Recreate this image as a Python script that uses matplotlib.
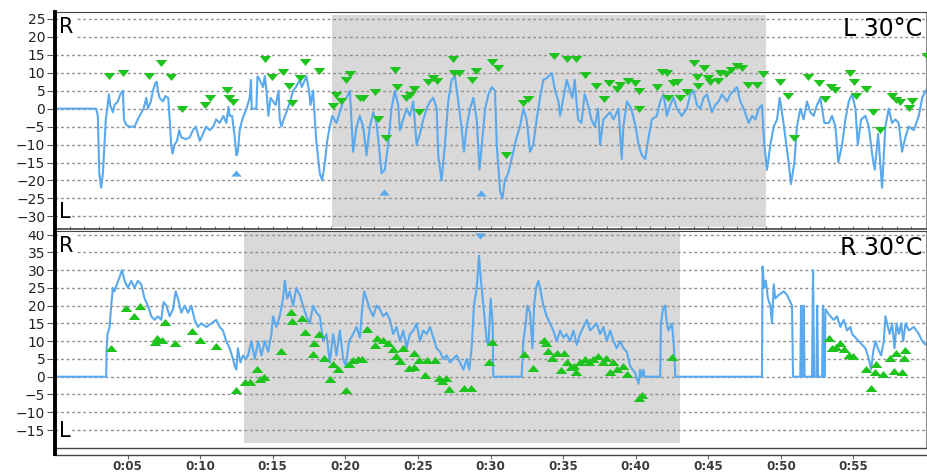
"""Two-panel lateral position trace, L 30°C (top) and R 30°C (bottom)."""
import matplotlib
matplotlib.use("Agg")
import matplotlib.pyplot as plt
from matplotlib.lines import Line2D
from matplotlib.patches import Rectangle

plt.rcParams['font.family'] = ['DejaVu Sans']

# ---- top panel (L 30°C): trace, minutes vs value ----
top_t = [0, 2.84, 2.95, 3.05, 3.18, 3.3, 3.41, 3.5, 3.6, 3.71, 3.8, 3.99, 4.1, 4.33, 4.5, 4.68,
         4.75, 4.9, 5.1, 5.48, 5.7, 5.83, 6.1, 6.29, 6.4, 6.6, 6.75, 6.9, 7.0, 7.09, 7.2, 7.44,
         7.6, 7.8, 7.9, 8.0, 8.1, 8.24, 8.4, 8.55, 8.7, 9.0, 9.28, 9.5, 9.7, 9.97, 10.2, 10.4,
         10.66, 10.9, 11.1, 11.34, 11.6, 11.8, 11.95, 12.03, 12.2, 12.38, 12.5, 12.6, 12.72,
         12.9, 13.19, 13.41, 13.5, 13.55, 13.87, 13.95, 14.1, 14.33, 14.45, 14.57, 14.7, 14.85,
         15.02, 15.2, 15.4, 15.48, 15.6, 15.75, 15.94, 16.2, 16.4, 16.6, 16.86, 17.0, 17.32,
         17.5, 17.6, 17.78, 17.9, 18.0, 18.24, 18.4, 18.59, 18.75, 18.93, 19.1, 19.39, 19.62,
         19.85, 20.08, 20.31, 20.54, 20.77, 21.0, 21.23, 21.46, 21.69, 21.92, 22.15, 22.38,
         22.49, 22.72, 22.95, 23.18, 23.41, 23.64, 23.76, 23.99, 24.22, 24.45, 24.68, 24.91,
         25.14, 25.37, 25.6, 25.83, 26.06, 26.29, 26.4, 26.63, 26.86, 27.09, 27.32, 27.55,
         27.78, 28.0, 28.17, 28.36, 28.59, 28.82, 29.05, 29.24, 29.4, 29.63, 29.86, 30.08,
         30.31, 30.43, 30.66, 30.82, 30.99, 31.22, 31.45, 31.8, 32.03, 32.26, 32.49, 32.72,
         32.95, 33.18, 33.41, 33.64, 33.87, 34.22, 34.45, 34.68, 34.79, 35.02, 35.25, 35.48,
         35.64, 35.8, 36.03, 36.26, 36.49, 36.72, 36.95, 37.18, 37.41, 37.55, 37.78, 38.01,
         38.24, 38.47, 38.82, 39.04, 39.15, 39.4, 39.7, 40.0, 40.2, 40.43, 40.66, 40.89, 41.11,
         41.46, 41.69, 41.92, 42.15, 42.38, 42.61, 42.84, 43.18, 43.53, 43.76, 43.99, 44.22,
         44.45, 44.68, 44.91, 45.25, 45.48, 45.71, 45.94, 46.29, 46.52, 46.75, 46.98, 47.21,
         47.44, 47.79, 48.02, 48.25, 48.48, 48.7, 48.86, 49.05, 49.28, 49.51, 49.74, 49.92,
         50.15, 50.38, 50.54, 50.7, 50.93, 51.11, 51.34, 51.57, 51.8, 52.03, 52.26, 52.49,
         52.72, 53.0, 53.3, 53.53, 53.76, 53.96, 54.22, 54.45, 54.68, 54.91, 55.14, 55.3,
         55.53, 55.83, 56.06, 56.3, 56.47, 56.7, 56.97, 57.2, 57.43, 57.66, 57.89, 58.12,
         58.35, 58.58, 58.81, 59.16, 59.5, 59.74, 59.97, 60.2]
top_v = [0, 0, -2, -18, -22, -18, -10, -3, 0, 4, 1, -1, 1, 2, 4, 5,
         -3, -4.5, -5, -5, -3, -2, 0, 3, 0, 2, 5, 7, 7.5, 5, 3, 2,
         3.5, 3, -3, -10, -12.5, -10, -9, -6, -8, -8.5, -8, -6, -5, -9, -7, -5,
         -6, -5, -3, -4, -2, -4, 0.5, -2, -2, -8, -13, -12, -6,
         -3, 0, 3, 8, 0, 0, 9, 8, 6, 9, 5, -2, 3,
         2, 1, 5, -3, -5, -3, -1, 2, 5, 6, 8, 6, 9,
         5, 1, 5, -3, -9, -18, -20, -15, -9, -5, -2, -4, -1,
         2, 3, 5, -12, -5, -2, -5, -13, -5, -1, -4, -13,
         -18, -17, -10, 0, 5, 1, -6, -3, 0, -2, 2, -10,
         -7, -3, 0, 2, 3, 0, -13, -20, -10, 2, 8, 9,
         2, -5, -12, -5, 0, 3, -3, -17, -10, 0, 4, 6,
         5, -10, -23, -25, -20, -18, -14, -8, -5, 0, -3, -12,
         -10, -3, 3, 8, 8.5, 10, 5, 2, -2, 3, 8, 5,
         3, 8, -3, -4, 4, 1, -3, -5, 0, -10, -3, -2,
         -1, -3, 0, -14, -5, 2, 0, -5, -10, -13, -14, -8, -3,
         -2, 2, 4, -2, 1, 3, 0, -2, 0, 4, 5, 1,
         0, 3, 4, -1, 1, 2, 4, 2, 4, 5, 6, 2,
         0, -4, -2, -3, 0, 1, -10, -17, -10, -5, -3, 3,
         -3, -10, -15, -21, -15, -5, 0, -3, 2, -1, -2, 1,
         3, -4, -4, -2, -5, -15, -10, -3, 2, 4, 0, -10,
         -3, -2, -5, -13, -17, -7, -22, -5, 0, -4, -3, -4,
         -12, -8, -5, -6, -2, 3, 5, 6]

top_mk_t = [3.71, 4.68, 6.45, 7.28, 7.97, 8.77, 10.31, 10.66, 11.87, 11.96, 12.26, 14.45, 14.98,
            15.71, 16.13, 16.36, 16.86, 17.25, 18.2, 19.16, 19.39, 19.73, 20.08, 20.35, 21.0,
            21.23, 22.03, 22.26, 22.79, 23.41, 23.57, 24.21, 24.45, 24.75, 25.1, 25.71, 26.05,
            26.33, 27.44, 27.49, 27.86, 28.71, 28.98, 30.08, 30.54, 31.05, 32.26, 32.56, 34.36,
            35.3, 35.92, 36.54, 37.26, 37.81, 38.17, 38.68, 38.91, 39.48, 39.94, 40.2, 40.25,
            41.46, 41.8, 42.15, 42.26, 42.56, 42.84, 43.02, 43.53, 43.99, 44.22, 44.27, 44.68,
            44.95, 45.09, 45.64, 45.83, 46.24, 46.59, 46.98, 47.32, 47.73, 48.36, 48.77, 49.97,
            50.47, 50.93, 51.87, 52.66, 53.03, 53.49, 53.76, 54.79, 55.07, 55.2, 55.87, 56.36,
            56.86, 57.67, 57.9, 58.24, 58.82, 59.05, 60.05]
top_mk_v = [9.1, 10, 9.1, 12.8, 8.7, 0, 1, 3.1, 5.2, 3.1, 1.9, 13.7, 8.7,
            10.3, 6.3, 1.5, 8.4, 13, 10.6, 0.7, 3.8, 2.2, 8, 9.6, 3.1,
            3.1, 4.7, -2.9, -8.2, 10.7, 5.9, 2.9, 3.8, 5.6, -0.8, 7.5, 8.6,
            7.7, 13.7, 10, 10, 8, 10.6, 13, 11.2, -13, 1.5, 2.8, 14.7,
            13.7, 13.7, 9.5, 6.3, 2.7, 7, 5.6, 6.6, 7.7, 7, 4.9, -0.2,
            5.9, 10.3, 9.8, 2.9, 7.2, 7.5, 3.1, 4.7, 12.8, 8.7, 6.4, 11.2,
            8.6, 7.3, 7.7, 10, 9.6, 10.7, 11.9, 11.2, 6.6, 6.6, 9.6, 7.5,
            3.5, -8.2, 8.9, 7, 2.7, 5.9, 5.2, 9.8, 7.5, 3.6, 5.6, -0.8,
            -5.9, 3.6, 2.4, 1.8, 0.1, 2.1, 14.6]
top_blue_t = [12.49, 22.66, 29.35]
top_blue_v = [-17.8, -23.2, -23.5]

# ---- bottom panel (R 30°C) ----
bot_t = [0, 3.53, 3.56, 3.62, 3.76, 3.87, 3.99, 4.1, 4.26, 4.45, 4.61, 4.79, 5.02, 5.25, 5.48,
         5.71, 5.94, 6.17, 6.4, 6.63, 6.86, 7.09, 7.32, 7.48, 7.67, 7.9, 8.13, 8.31, 8.47, 8.7,
         8.93, 9.16, 9.39, 9.62, 9.85, 10.08, 10.43, 10.77, 11.11, 11.34, 11.57, 11.8, 12.03,
         12.26, 12.38, 12.49, 12.6, 12.77, 12.95, 13.14, 13.3, 13.53, 13.76, 13.99, 14.22,
         14.45, 14.68, 14.91, 15.02, 15.25, 15.48, 15.71, 15.83, 15.99, 16.17, 16.4, 16.63,
         16.86, 17.09, 17.32, 17.55, 17.78, 18.01, 18.24, 18.47, 18.7, 18.93, 19.16, 19.39,
         19.62, 19.85, 20.03, 20.26, 20.54, 20.77, 21.0, 21.18, 21.3, 21.46, 21.69, 21.92,
         22.15, 22.38, 22.61, 22.84, 23.07, 23.3, 23.53, 23.76, 23.99, 24.22, 24.45, 24.68,
         24.91, 25.14, 25.37, 25.6, 25.83, 26.06, 26.29, 26.52, 26.75, 26.98, 27.21, 27.44,
         27.67, 27.9, 28.13, 28.36, 28.54, 28.7, 28.86, 29.05, 29.21, 29.32, 29.44, 29.56,
         29.74, 29.86, 30.01, 30.15, 30.19, 32.14, 32.26, 32.43, 32.54, 32.72, 32.89, 33.0,
         33.14, 33.3, 33.46, 33.64, 33.87, 34.1, 34.33, 34.56, 34.79, 35.02, 35.25, 35.48,
         35.71, 35.94, 36.17, 36.4, 36.63, 36.86, 37.09, 37.32, 37.55, 37.78, 38.01, 38.24,
         38.47, 38.7, 38.93, 39.16, 39.39, 39.62, 39.97, 40.2, 40.31, 40.43, 40.54, 40.59,
         41.69, 41.74, 41.88, 42.03, 42.15, 42.26, 42.38, 42.49, 42.61, 42.73, 48.7, 48.74,
         48.86, 48.97, 49.11, 49.28, 49.39, 49.51, 49.62, 49.85, 50.2, 50.43, 50.77, 50.84,
         51.34, 51.39, 51.43, 51.53, 51.57, 51.64, 52.15, 52.22, 52.29, 52.45, 52.5, 52.57,
         52.84, 52.9, 52.98, 53.03, 53.07, 53.23, 53.41, 53.64, 53.87, 54.1, 54.33, 54.56,
         54.79, 54.91, 55.14, 55.37, 55.6, 55.83, 56.06, 56.22, 56.36, 56.51, 56.68, 56.91,
         57.09, 57.21, 57.32, 57.5, 57.67, 57.83, 57.97, 58.13, 58.29, 58.43, 58.59, 58.82,
         59.16, 59.51, 59.74, 59.97, 60.2]
bot_v = [0, 0, 8, 12, 14, 20, 25, 24, 26, 28, 30, 27, 25, 27, 25,
         27, 26, 22, 20, 17, 16, 17, 16, 21, 20, 17, 19, 24, 22, 18,
         20, 18, 20, 16, 14, 15, 14, 15, 16, 14, 13, 10, 8,
         5, 3, 2, 8, 4, 6, 5, 6, 10, 5, 10, 6,
         10, 7, 12, 17, 14, 17, 22, 27, 22, 24, 20, 25,
         23, 20, 17, 15, 20, 18, 17, 10, 12, 4, 12, 6,
         13, 5, 3, 10, 12, 14, 11, 20, 24, 22, 19, 17,
         20, 19, 17, 18, 16, 12, 14, 10, 13, 8, 12, 13,
         15, 10, 13, 12, 14, 11, 8, 7, 5, 6, 4, 5,
         6, 4, 2, 5, 2, 8, 20, 25, 34, 28, 23, 18,
         10, 9, 22, 15, 0, 0, 10, 15, 20, 18, 8, 20,
         25, 27, 24, 20, 17, 15, 13, 10, 13, 11, 12, 10,
         13, 9, 12, 14, 16, 13, 14, 15, 12, 14, 10, 13,
         10, 8, 10, 8, 7, 3, 1, -2, 2, 0, 2, 0,
         0, 15, 19, 20, 15, 13, 14, 15, 10, 0, 0, 31,
         25, 27, 22, 20, 15, 26, 22, 23, 24, 23, 20, 0,
         0, 20, 0, 0, 20, 0, 0, 30, 0, 0, 20, 0,
         0, 20, 0, 0, 19, 18, 17, 16, 17, 14, 16, 13,
         14, 12, 11, 10, 9, 8, 5, 2, 7, 10, 8, 6,
         10, 17, 15, 12, 15, 8, 15, 12, 15, 10, 15, 13,
         14, 12, 10, 9, 11]

bot_mk_t = [3.87, 4.86, 5.41, 5.83, 6.86, 7.02, 7.37, 7.6, 8.29, 9.44, 9.97, 11.12, 12.49,
            13.07, 13.46, 13.92, 14.1, 14.38, 15.6, 16.24, 16.36, 17.02, 17.21, 17.78, 17.85,
            18.2, 18.52, 18.93, 19.16, 19.5, 20.08, 20.27, 20.54, 20.88, 21.18, 21.51, 22.03,
            22.19, 22.61, 22.95, 23.25, 23.48, 23.76, 23.94, 24.4, 24.72, 24.72, 25.09, 25.48,
            25.64, 26.17, 26.47, 26.63, 26.93, 27.16, 28.17, 28.63, 29.92, 30.13, 32.31, 32.95,
            33.69, 33.83, 33.99, 34.22, 34.61, 34.84, 35.03, 35.25, 35.53, 35.76, 35.89, 36.17,
            36.52, 36.81, 37.09, 37.43, 37.73, 37.96, 38.24, 38.42, 38.7, 39.11, 39.39, 40.2,
            40.42, 42.5, 53.3, 53.53, 53.83, 54.1, 54.38, 54.68, 54.95, 55.85, 56.24, 56.47,
            56.54, 57.05, 57.53, 57.81, 57.92, 58.33, 58.49, 58.56]
bot_mk_v = [8, 19.4, 17.2, 19.8, 9.8, 10.8, 10.3, 15.3, 9.4, 12.9, 10.3, 8.7, -3.8,
            -1.4, -1.4, 2.3, -0.7, 0, 7.3, 18.1, 15.7, 16.6, 12.5, 6.3, 9.4,
            12, 5.2, -0.7, 3.5, 2.3, -3.8, 3.5, 4.7, 4.9, 4.9, 13.4, 8.9,
            10.8, 10.3, 9.4, 7.8, 5.9, 4.4, 8.2, 2.5, 2.8, 6.6, 4.7, 0.5,
            4.7, 4.7, -0.5, -1.2, -0.5, -3.5, -3.3, -3.3, 4.2, 9.7, 6.3, 2.5,
            10.3, 9.4, 7.2, 5.2, 6.8, 1.9, 6.6, 4.2, 2.8, 3.1, 1.4, 4.2,
            5, 4.2, 5, 5.9, 4.2, 5.2, 1.4, 4.2, 2.2, 3.1, 0.9, -6.1,
            -5.2, 5.6, 10.8, 8, 8.4, 9.4, 7.8, 6.1, 5.9, 2.1, -3.3, 1.4,
            3.5, 0.7, 5.3, 1.6, 6.6, 1.4, 5.3, 7.5]
bot_blue_t = [29.28]
bot_blue_v = [39.6]

# shaded periods (minutes)
top_span = (19.05, 49.0)
bot_span = (13.0, 43.07)

x_ticks = [5, 10, 15, 20, 25, 30, 35, 40, 45, 50, 55]
x_labels = [f"0:{m:02d}" for m in x_ticks]

BLUE = '#5aa9ec'
GREEN = '#1ec31e'
GRID = '#8f8f8f'

# wide, flat triangles like the original export
TRI_DOWN = [(-1, 0.6), (1, 0.6), (0, -0.6), (-1, 0.6)]
TRI_UP = [(-1, -0.6), (1, -0.6), (0, 0.6), (-1, -0.6)]

W, H = 928, 473
fig = plt.figure(figsize=(W / 100, H / 100), dpi=100)
L, R = 55, 926
ax1 = fig.add_axes([L / W, 1 - 229 / H, (R - L) / W, (229 - 12) / H])
ax2 = fig.add_axes([L / W, 1 - 448 / H, (R - L) / W, (448 - 231) / H])

panels = [
    (ax1, top_t, top_v, top_mk_t, top_mk_v, TRI_DOWN, top_blue_t, top_blue_v, TRI_UP,
     top_span, (-33.5, 26.9), range(-30, 26, 5), "L 30°C", (0.01, 0.987)),
    (ax2, bot_t, bot_v, bot_mk_t, bot_mk_v, TRI_UP, bot_blue_t, bot_blue_v, TRI_DOWN,
     bot_span, (-20.06, 41.0), range(-15, 41, 5), "R 30°C", (0.023, 0.995)),
]

for (ax, t, v, mt, mv, mshape, bt, bv, bshape, span, ylim, yt, title, yspan) in panels:
    ax.axvspan(*span, ymin=yspan[0], ymax=yspan[1], color='#d9d9d9', lw=0, zorder=0)
    ax.set_axisbelow(True)
    ax.set_yticks(list(yt))
    ax.grid(axis='y', color=GRID, linestyle=(0, (2, 2)), linewidth=1.0)
    ax.plot(t, v, color=BLUE, lw=1.5, zorder=3)
    ax.plot(mt, mv, linestyle='none', marker=mshape, ms=8.4, color=GREEN,
            markeredgewidth=0, zorder=4)
    ax.plot(bt, bv, linestyle='none', marker=bshape, ms=7.5, color=BLUE,
            markeredgewidth=0, zorder=4)
    ax.set_xlim(0, 60)
    ax.set_ylim(*ylim)
    ax.tick_params(axis='y', labelsize=10, length=6, width=0.8, color='#555555',
                   labelcolor='#222222', pad=1)
    ax.spines['left'].set_visible(False)
    ax.spines['right'].set_color('#888888')
    ax.spines['right'].set_linewidth(0.8)
    ax.spines['top'].set_color('#444444')
    ax.spines['bottom'].set_color('#444444')
    ax.spines['bottom'].set_linewidth(1.2)

    box = dict(facecolor='white', edgecolor='none', pad=1)
    ax.text(0.005, 0.975, "R", transform=ax.transAxes, fontsize=15, ha='left',
            va='top', bbox=box, zorder=5)
    ax.text(0.005, 0.03, "L", transform=ax.transAxes, fontsize=15, ha='left',
            va='bottom', bbox=box, zorder=5)
    ax.text(0.996, 0.975, title, transform=ax.transAxes, fontsize=17, ha='right',
            va='top', zorder=5)

# top panel: no x labels, little minute marks along its lower edge
ax1.set_xticks(x_ticks)
ax1.set_xticks(range(1, 60), minor=True)
ax1.tick_params(axis='x', which='both', direction='in', length=2.5, width=0.8,
                color='#777777', labelbottom=False)

# bottom panel: separate x axis strip just below the frame
ax2.spines['bottom'].set_position(('outward', 5))
ax2.spines['bottom'].set_linewidth(1.0)
ax2.plot([0, 1], [0, 0], transform=ax2.transAxes, color='#444444', lw=1.0,
         clip_on=False, zorder=6)
ax2.set_xticks(x_ticks)
ax2.set_xticklabels(x_labels, fontweight='bold')
ax2.tick_params(axis='x', length=3, width=0.8, color='#666666', labelsize=8.6,
                labelcolor='#3a3a3a', pad=0.8)

# thick black left axis through both panels
fig.add_artist(Line2D([L / W, L / W], [1 - 454 / H, 1 - 12 / H], lw=2.8,
                      color='black', transform=fig.transFigure))
# upper part of the bottom "40" label is hidden under the panel boundary
fig.add_artist(Rectangle((0, 1 - 231 / H), 49 / W, 9 / H, facecolor='white',
                         edgecolor='none', transform=fig.transFigure, zorder=10))

fig.savefig("out.png", dpi=100, facecolor='white')
